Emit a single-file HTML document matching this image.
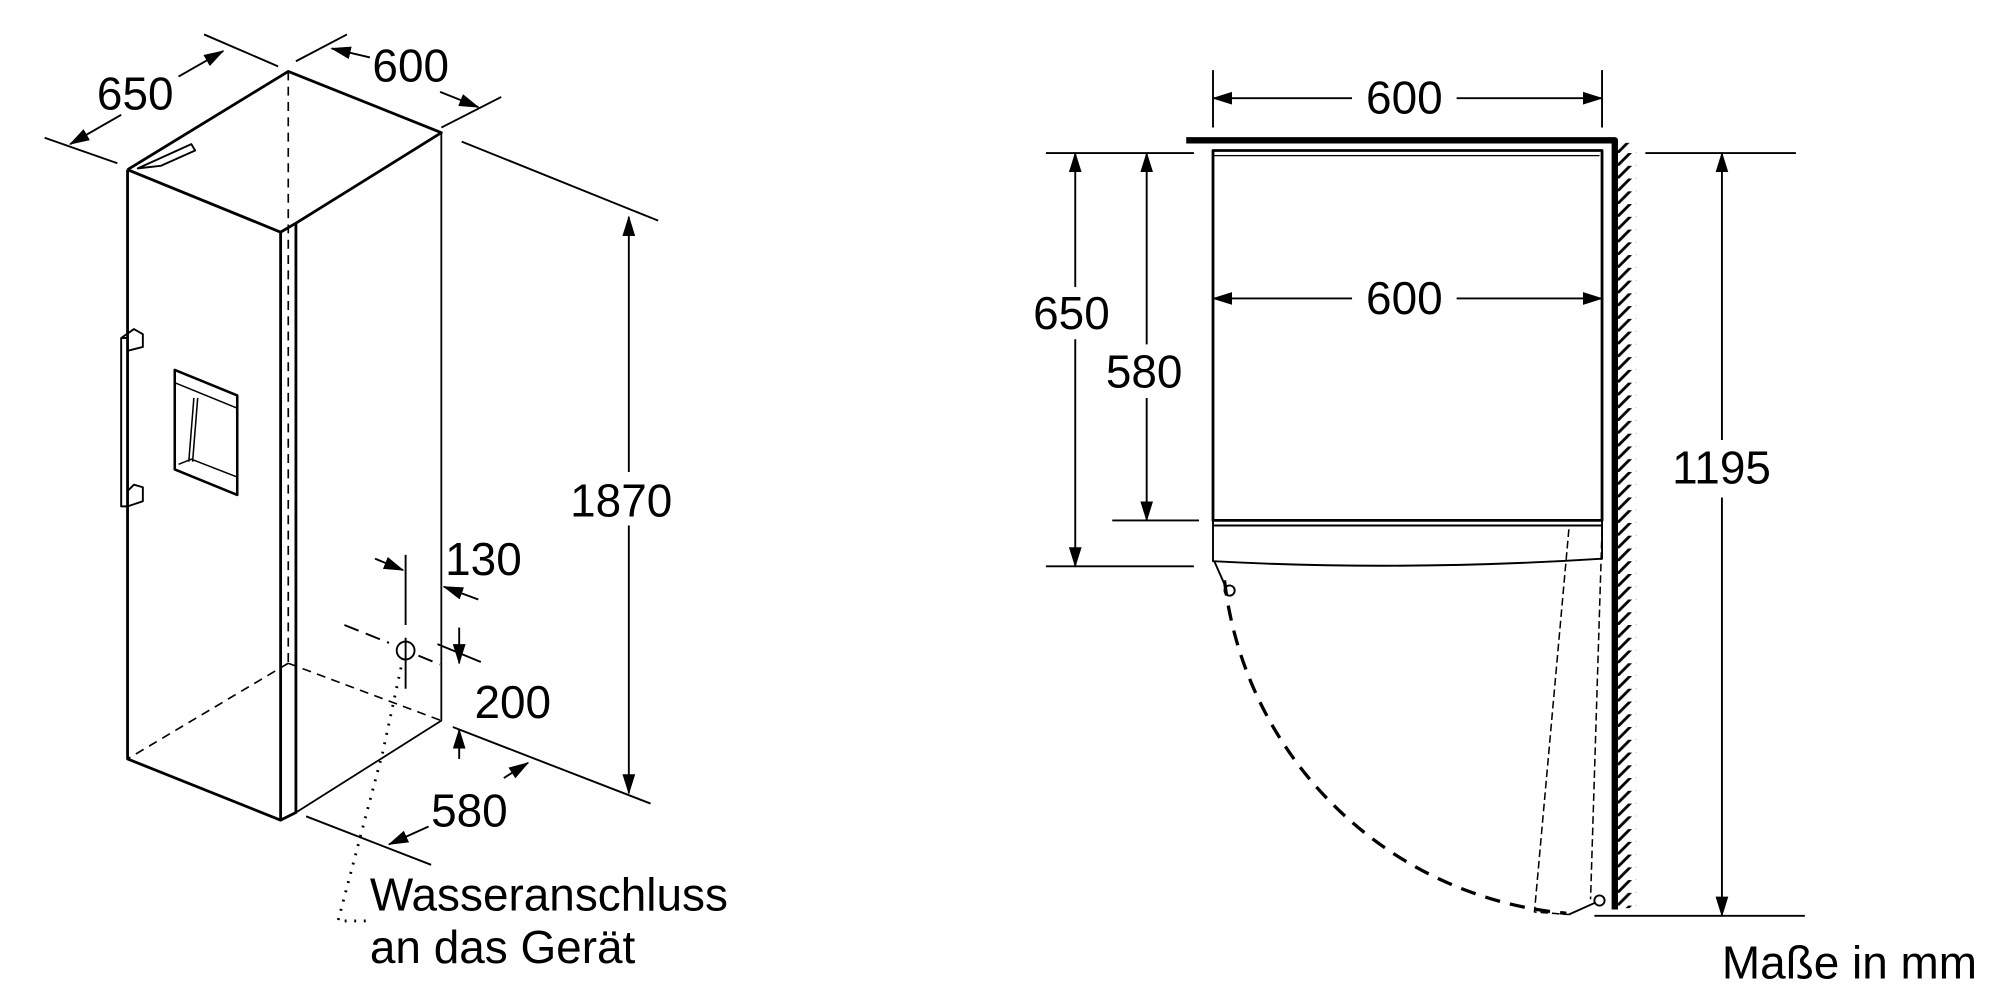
<!DOCTYPE html>
<html><head><meta charset="utf-8"><style>
html,body{margin:0;padding:0;background:#fff;}
svg{display:block}
text{font-family:"Liberation Sans",sans-serif;font-size:36px;fill:#000}
</style></head><body>
<svg width="2000" height="1000" viewBox="0 0 1568 784" xmlns="http://www.w3.org/2000/svg">
<defs>
<marker id="a" markerWidth="16" markerHeight="10" refX="15" refY="5" orient="auto" markerUnits="userSpaceOnUse"><path d="M0,0 L16,5 L0,10 Z" fill="#000"/></marker>
<pattern id="h" width="16" height="10" patternUnits="userSpaceOnUse"><path d="M0,14 L16,-2" stroke="#000" stroke-width="2.2"/></pattern>
</defs>
<g stroke="#000" fill="none" stroke-width="2.2" stroke-linejoin="round">
<path d="M100,133 L226,56 L346,104 L232,175"/>
<path d="M100,133 L220,182 L232,175"/>
<path d="M100,133 L100,595 L220,643 L220,182"/>
<path d="M232,175 L232,637 L220,643"/>
<path d="M232,637 L346,565 L346,104" stroke-width="1.4"/>
<path d="M226,56 L226,520 M226,520 L100,595 M226,520 L346,565" stroke-dasharray="7,5" stroke-width="1.3"/>
<path d="M108,132 L150,113 L153,118 L126,130 Z" stroke-width="1.5"/>
<path d="M95,265 L95,397 L100,397 L100,265 Z M95,265 L105,258 L112,262 L112,272 L100,275" stroke-width="1.5"/>
<path d="M100,385 L105,380 L112,382 L112,393 L100,397" stroke-width="1.5"/>
<path d="M137,290 L186,310 L186,388 L137,368 Z" stroke-width="2"/>
<path d="M137,300 L186,320 M152,312 L148,362 M155,312 L151,362 M140,364 L150,360 L186,374" stroke-width="1.2"/>
<g stroke-width="1.5">
<path d="M35,108 L92,128 M160,27 L218,52 M232,48 L272,27 M346,100 L393,76"/>
<path d="M362,111 L516,173 M355,570 L510,630 M240,640 L338,678"/>
<path d="M95,90 L55,113" marker-end="url(#a)"/><path d="M140,60 L175,40" marker-end="url(#a)"/>
<path d="M290,45 L260,38" marker-end="url(#a)"/><path d="M345,72 L375,84" marker-end="url(#a)"/>
<path d="M493,370 L493,170" marker-end="url(#a)"/><path d="M493,412 L493,622" marker-end="url(#a)"/>
<path d="M336,648 L305,662" marker-end="url(#a)"/><path d="M395,610 L414,598" marker-end="url(#a)"/>
<path d="M318,435 L318,490 M318,500 L318,540"/>
<path d="M294,438 L316,447" marker-end="url(#a)"/>
<path d="M375,470 L348,460" marker-end="url(#a)"/>
<path d="M360,492 L360,520" marker-end="url(#a)"/>
<path d="M360,595 L360,572" marker-end="url(#a)"/>
<path d="M343,505 L377,519"/>
<path d="M270,490 L305,504 M328,514 L345,521" stroke-dasharray="12,6"/>
<circle cx="318" cy="510" r="7"/>
<path d="M316,516 L300,590 L265,722 L292,722" stroke-dasharray="1.5,6" stroke-width="2.2"/>
</g>
<path d="M930,110 L1266,110 L1266,713" stroke-width="5"/>
<rect x="1268" y="112" width="15" height="600" fill="url(#h)" stroke="none"/>
<rect x="951" y="118" width="305" height="290" stroke-width="2.2"/>
<path d="M951,122 L1254,122" stroke-width="1"/>
<path d="M951,408 L951,440 Q1100,448 1256,438 L1256,408 M951,412 L1256,412" stroke-width="1.5"/>
<path d="M960,455 A296,296 0 0 0 1228,716" stroke-dasharray="12,8" stroke-width="2.6"/>
<path d="M1230,415 L1203,715 L1230,717 M1256,415 L1247,705" stroke-dasharray="6,3" stroke-width="1.2"/>
<circle cx="964" cy="463" r="4" stroke-width="1.5"/>
<circle cx="1254" cy="706" r="4" stroke-width="1.5"/>
<path d="M952,440 L960,458 M1230,717 L1250,708" stroke-width="1.5"/>
<g stroke-width="1.5">
<path d="M951,55 L951,100 M1256,55 L1256,100"/>
<path d="M1060,77 L951,77" marker-end="url(#a)"/><path d="M1142,77 L1256,77" marker-end="url(#a)"/>
<path d="M1060,234 L951,234" marker-end="url(#a)"/><path d="M1142,234 L1256,234" marker-end="url(#a)"/>
<path d="M820,120 L936,120 M872,408 L940,408 M820,444 L936,444"/>
<path d="M843,225 L843,120" marker-end="url(#a)"/><path d="M843,266 L843,444" marker-end="url(#a)"/>
<path d="M899,270 L899,120" marker-end="url(#a)"/><path d="M899,312 L899,408" marker-end="url(#a)"/>
<path d="M1290,120 L1408,120 M1250,718 L1415,718"/>
<path d="M1350,345 L1350,120" marker-end="url(#a)"/><path d="M1350,390 L1350,718" marker-end="url(#a)"/>
</g>
</g>
<text x="76" y="86">650</text>
<text x="292" y="64">600</text>
<text x="447" y="405">1870</text>
<text x="349" y="451">130</text>
<text x="372" y="563">200</text>
<text x="338" y="648">580</text>
<text x="290" y="714">Wasseranschluss</text>
<text x="290" y="755">an das Gerät</text>
<text x="1071" y="89">600</text>
<text x="1071" y="246">600</text>
<text x="810" y="258">650</text>
<text x="867" y="304">580</text>
<text x="1311" y="379">1195</text>
<text x="1350" y="767">Maße in mm</text>
</svg>
</body></html>
